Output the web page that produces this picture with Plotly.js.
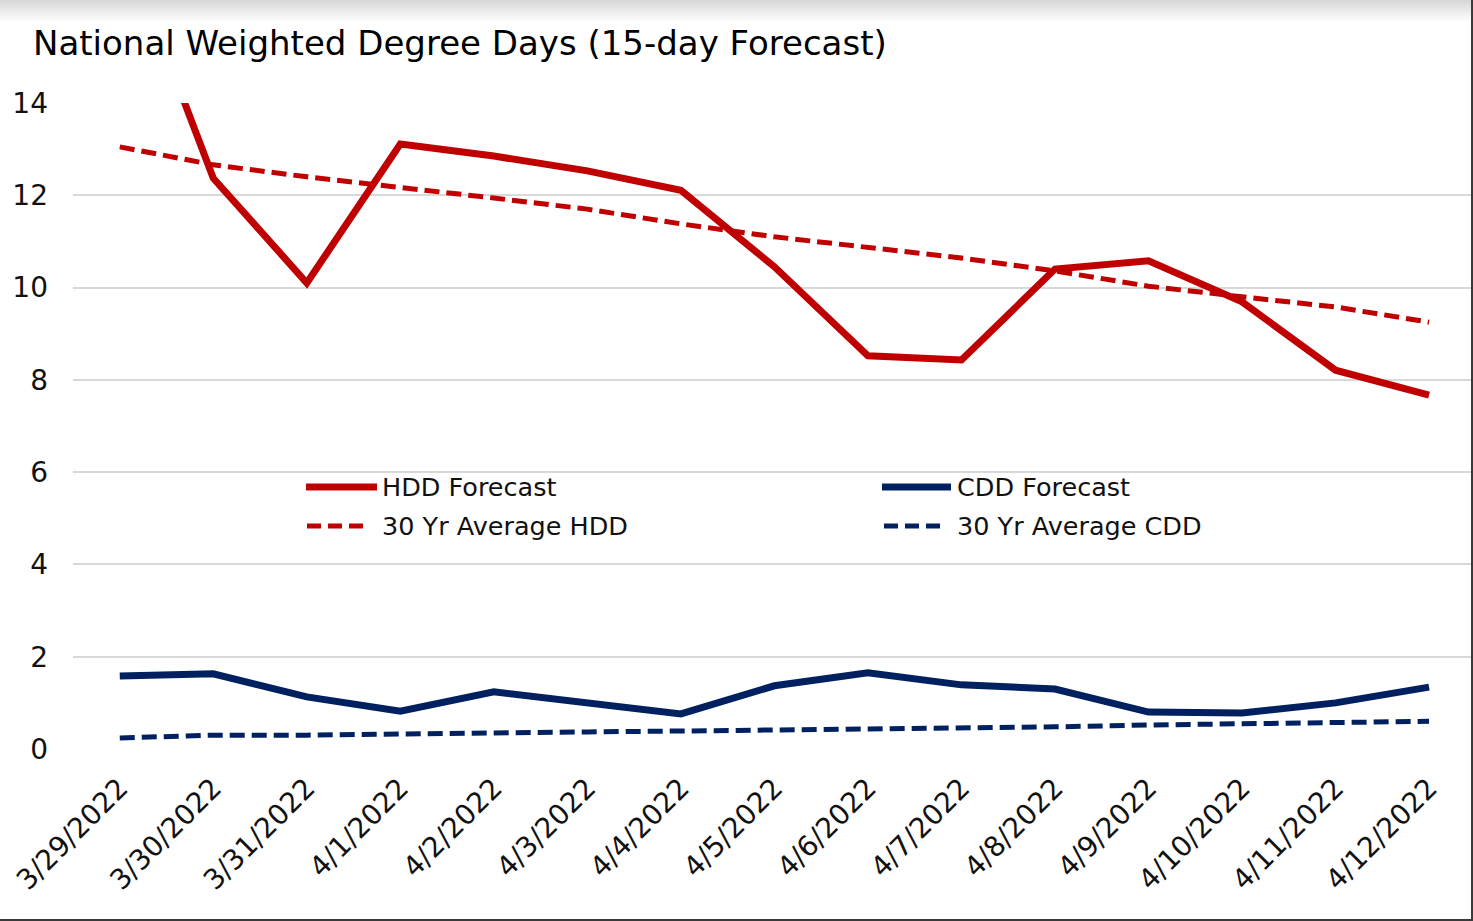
<!DOCTYPE html>
<html>
<head>
<meta charset="utf-8">
<script src="https://cdn.plot.ly/plotly-3.0.1.min.js"></script>
<style>
  html, body { margin: 0; padding: 0; background: #fff; }
  #wrap { position: relative; width: 1473px; height: 921px; overflow: hidden; }
  #chart { position: absolute; left: 0; top: 0; width: 1473px; height: 921px; }
  #topshade { position: absolute; left: 0; top: 0; width: 1473px; height: 22px;
    background: linear-gradient(to bottom, #d6d6d6, rgba(255,255,255,0)); pointer-events: none; }
  #frame { position: absolute; left: 0; top: 0; width: 1471px; height: 919px;
    border-right: 2px solid #3a3a3a; border-bottom: 2px solid #3a3a3a; pointer-events: none; }
</style>
</head>
<body>
<div id="wrap">
  <div id="chart"></div>
  <div id="topshade"></div>
  <div id="frame"></div>
</div>
<script>
const dates = ["3/29/2022","3/30/2022","3/31/2022","4/1/2022","4/2/2022","4/3/2022","4/4/2022",
  "4/5/2022","4/6/2022","4/7/2022","4/8/2022","4/9/2022","4/10/2022","4/11/2022","4/12/2022"];
const hddForecast = [17.7, 12.37, 10.1, 13.11, 12.85, 12.53, 12.11, 10.45, 8.52, 8.43, 10.4, 10.58, 9.69, 8.21, 7.67];
const hddAverage  = [13.05, 12.66, 12.4, 12.18, 11.94, 11.7, 11.38, 11.1, 10.86, 10.64, 10.36, 10.03, 9.8, 9.58, 9.25];
const cddForecast = [1.58, 1.63, 1.13, 0.82, 1.24, 1.0, 0.76, 1.37, 1.65, 1.39, 1.3, 0.8, 0.78, 1.0, 1.34];
const cddAverage  = [0.24, 0.3, 0.3, 0.33, 0.35, 0.37, 0.39, 0.41, 0.45, 0.45, 0.48, 0.52, 0.54, 0.56, 0.6];
const yTicks = [0, 2, 4, 6, 8, 10, 12, 14];

const RED = "#C00000", NAVY = "#002060";
const FONT = "'DejaVu Sans', sans-serif";
const DASH = "15px,7px";

const traces = [
  {x: dates, y: hddForecast, name: "HDD Forecast", mode: "lines", line: {color: RED, width: 7}},
  {x: dates, y: cddForecast, name: "CDD Forecast", mode: "lines", line: {color: NAVY, width: 7}},
  {x: dates, y: hddAverage, name: "30 Yr Average HDD", mode: "lines", line: {color: RED, width: 5, dash: DASH}},
  {x: dates, y: cddAverage, name: "30 Yr Average CDD", mode: "lines", line: {color: NAVY, width: 5, dash: DASH}}
];

// custom legend (paper coordinates)
const L = {xL: 73, W: 1400, yB: 749, H: 646};
const px = v => (v - L.xL) / L.W;
const py = v => (L.yB - v) / L.H;
const legendItems = [
  {x0: 306, x1: 377, xt: 380, y: 487, color: RED, dash: "solid", w: 7, text: traces[0].name},
  {x0: 307, x1: 366, xt: 380, y: 526, color: RED, dash: "dash", w: 5, text: traces[2].name},
  {x0: 882, x1: 951, xt: 955, y: 487, color: NAVY, dash: "solid", w: 7, text: traces[1].name},
  {x0: 884, x1: 942, xt: 955, y: 526, color: NAVY, dash: "dash", w: 5, text: traces[3].name}
];
const shapes = legendItems.map(it => ({
  type: "line", xref: "paper", yref: "paper", x0: px(it.x0), x1: px(it.x1), y0: py(it.y), y1: py(it.y),
  line: {color: it.color, width: it.w, dash: it.dash === "dash" ? "14px,7px" : "solid"}
}));
const annotations = legendItems.map(it => ({
  xref: "paper", yref: "paper", x: px(it.xt), y: py(it.y), xanchor: "left", yanchor: "middle",
  showarrow: false, text: it.text, font: {family: FONT, size: 25.5, color: "#111"}
}));

const layout = {
  width: 1473, height: 921,
  margin: {l: 73, r: 0, t: 103, b: 172, pad: 0},
  paper_bgcolor: "#ffffff", plot_bgcolor: "#ffffff",
  showlegend: false,
  title: {text: "National Weighted Degree Days (15-day Forecast)", xref: "container", yref: "container",
    x: 33/1473, xanchor: "left", y: 1 - 43/921, yanchor: "middle",
    font: {family: FONT, size: 34, color: "#000"}},
  xaxis: {type: "category", range: [-0.5, 14.47], showgrid: false, zeroline: false, showline: false,
    tickangle: -45, ticks: "", tickfont: {family: FONT, size: 28, color: "#111"}, ticklabelstandoff: 16,
    fixedrange: true},
  yaxis: {range: [0, 14], tickvals: yTicks, ticktext: yTicks.map(String), showgrid: true,
    gridcolor: "#d9d9d9", gridwidth: 2, zeroline: false, showline: false, ticks: "",
    tickfont: {family: FONT, size: 28, color: "#111"}, ticklabelstandoff: 24, fixedrange: true},
  shapes: shapes,
  annotations: annotations
};

Plotly.newPlot("chart", traces, layout, {displayModeBar: false, staticPlot: true});
</script>
</body>
</html>
